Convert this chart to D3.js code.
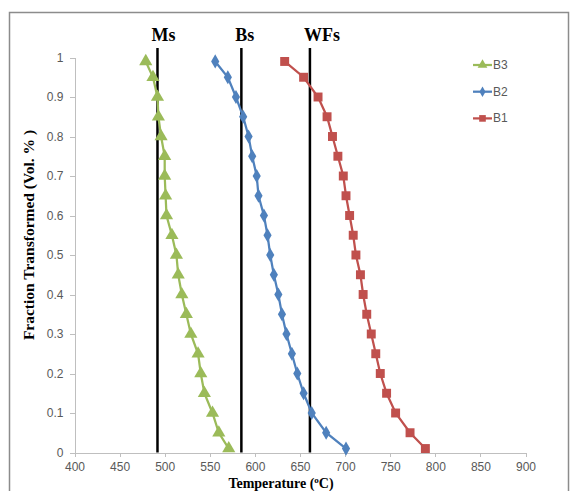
<!DOCTYPE html>
<html lang="en">
<head>
<meta charset="UTF-8">
<script src="https://cdn.jsdelivr.net/npm/d3@7"></script>
<style>
  body { margin: 0; background: #fff; }
  svg { display: block; }
  .axis path, .axis line { stroke: #bfbfbf; shape-rendering: crispEdges; }
  .axis text { fill: #595959; font-family: "Liberation Sans Narrow", "Liberation Sans", sans-serif; font-size: 12px; }
  .title { font-family: "Liberation Serif", "Times New Roman", serif; font-weight: bold; fill: #000; }
</style>
</head>
<body>
<svg id="chart" width="571" height="491"></svg>
<script>
// fraction transformed (y) shared by all three series
var fractions = [0.99, 0.95, 0.9, 0.85, 0.8, 0.75, 0.7, 0.65, 0.6, 0.55, 0.5,
                 0.45, 0.4, 0.35, 0.3, 0.25, 0.2, 0.15, 0.1, 0.05, 0.01];
// temperatures (C) for each series
var tempB3 = [479, 487, 492, 493, 496, 500, 500, 501, 502, 508, 513,
              515, 519, 524, 529, 537, 540, 544, 553, 560, 571];
var tempB2 = [556, 570, 579, 587, 593, 597, 602, 604, 610, 614, 617,
              621, 626, 630, 635, 641, 647, 654, 663, 679, 701];
var tempB1 = [633, 654, 670, 680, 686, 692, 698, 701, 705, 709, 712,
              717, 720, 724, 729, 734, 739, 746, 756, 772, 789];
// vertical reference lines
var refNames = ["Ms", "Bs", "WFs"];
var refTemps = [492, 585, 661];
var xTicks = [400, 450, 500, 550, 600, 650, 700, 750, 800, 850, 900];
var yTicks = [0, 0.1, 0.2, 0.3, 0.4, 0.5, 0.6, 0.7, 0.8, 0.9, 1];

var series = [
  { name: "B3", temps: tempB3, color: "#9bbb59", symbol: d3.symbolTriangle, size: 75 },
  { name: "B2", temps: tempB2, color: "#4f81bd", symbol: d3.symbolDiamond, size: 58 },
  { name: "B1", temps: tempB1, color: "#c0504d", symbol: d3.symbolSquare, size: 80 }
];

var svg = d3.select("#chart");

// outer frame
svg.append("rect")
    .attr("x", 9.5).attr("y", 12.5)
    .attr("width", 559).attr("height", 490)
    .attr("fill", "none").attr("stroke", "#8c8c8c").attr("stroke-width", 1.5);

var x = d3.scaleLinear().domain([400, 900]).range([74.5, 525.5]);
var y = d3.scaleLinear().domain([0, 1]).range([452.5, 57.5]);

svg.append("g")
    .attr("class", "axis")
    .attr("transform", "translate(0," + y(0) + ")")
    .call(d3.axisBottom(x).tickValues(xTicks).tickSize(4).tickPadding(6).tickSizeOuter(4));

svg.append("g")
    .attr("class", "axis")
    .attr("transform", "translate(" + x(400) + ",0)")
    .call(d3.axisLeft(y).tickValues(yTicks).tickSize(5).tickPadding(6).tickSizeOuter(5)
          .tickFormat(function(d) { return d3.format("")(+d.toFixed(1)); }));

// reference lines + labels
refTemps.forEach(function(t, i) {
  svg.append("line")
      .attr("x1", x(t)).attr("x2", x(t))
      .attr("y1", 48).attr("y2", y(0))
      .attr("stroke", "#000").attr("stroke-width", 2.5);
  svg.append("text")
      .attr("class", "title")
      .attr("x", x(t) - 6).attr("y", 41)
      .attr("font-size", 18)
      .text(refNames[i]);
});

// series lines and markers
var line = d3.line()
    .x(function(d) { return x(d[0]); })
    .y(function(d) { return y(d[1]); });

series.forEach(function(s) {
  var pts = s.temps.map(function(t, i) { return [t, fractions[i]]; });
  svg.append("path")
      .datum(pts)
      .attr("d", line)
      .attr("fill", "none")
      .attr("stroke", s.color)
      .attr("stroke-width", 2.25);
  svg.append("g").selectAll("path")
      .data(pts)
      .enter().append("path")
      .attr("transform", function(d) { return "translate(" + x(d[0]) + "," + y(d[1]) + ")"; })
      .attr("d", d3.symbol().type(s.symbol).size(s.size))
      .attr("fill", s.color);
});

// legend
var legend = svg.append("g").attr("transform", "translate(473,65)");
series.forEach(function(s, i) {
  var g = legend.append("g").attr("transform", "translate(0," + (i * 26.7) + ")");
  g.append("line").attr("x1", 0).attr("x2", 19).attr("y1", 0).attr("y2", 0)
      .attr("stroke", s.color).attr("stroke-width", 2.25);
  g.append("path").attr("transform", "translate(9.5,0)")
      .attr("d", d3.symbol().type(s.symbol).size(s.size * 0.55))
      .attr("fill", s.color);
  g.append("text").attr("x", 20).attr("y", 4)
      .attr("fill", "#595959")
      .attr("font-family", "'Liberation Sans Narrow', 'Liberation Sans', sans-serif")
      .attr("font-size", 12)
      .text(s.name);
});

// axis titles
svg.append("text")
    .attr("class", "title")
    .attr("font-size", 15.5)
    .attr("text-anchor", "middle")
    .attr("transform", "translate(34,235) rotate(-90)")
    .text("Fraction Transformed  (Vol. % )");

var xt = svg.append("text")
    .attr("class", "title")
    .attr("font-size", 14)
    .attr("text-anchor", "middle")
    .attr("x", 281).attr("y", 488);
xt.append("tspan").text("Temperature (");
xt.append("tspan").attr("font-size", 9).attr("dy", -5).text("o");
xt.append("tspan").attr("dy", 5).text("C)");
</script>
</body>
</html>
